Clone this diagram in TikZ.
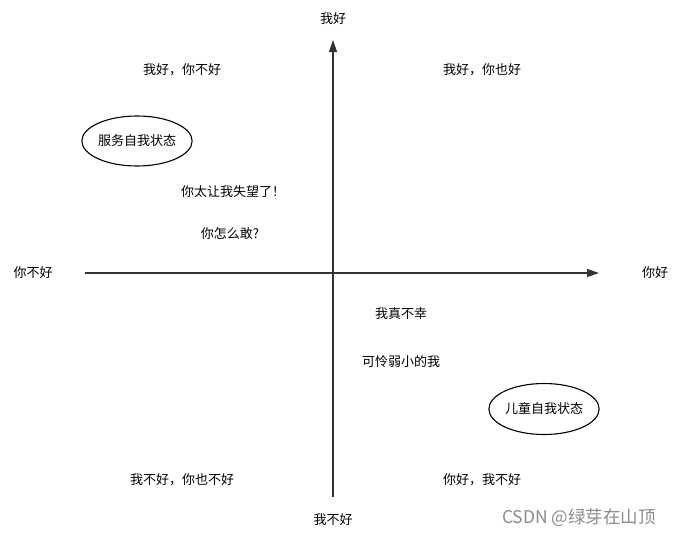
\documentclass[tikz,border=0pt]{standalone}
\usepackage{fontspec}
\setmainfont{Noto Sans CJK SC}
\newfontfamily\cjk{Noto Sans CJK SC}
\usetikzlibrary{arrows.meta,shapes.geometric}
\definecolor{axisgray}{HTML}{333333}
\tikzset{
  lbl/.style={font=\cjk\fontsize{13}{15}\selectfont, text=black, inner sep=0pt},
  axis/.style={draw=axisgray, line width=1.2pt, -{Triangle[length=12pt,width=8pt]}},
  stateell/.style={ellipse, draw=black, line width=1.1pt, minimum width=110pt, minimum height=50pt, font=\cjk\fontsize{13}{15}\selectfont, inner sep=0pt},
  wm/.style={font=\cjk\fontsize{17.5}{20}\selectfont, text=black!45, inner sep=0pt}
}
\begin{document}
\begin{tikzpicture}[x=1pt,y=-1pt]
\useasboundingbox[fill=white] (0,0) rectangle (679,536);
\coordinate (vb) at (333,497);
\coordinate (vt) at (333,40);
\coordinate (hl) at (85,273);
\coordinate (hr) at (599,273);
\draw[axis] (vb) -- (vt);
\draw[axis] (hl) -- (hr);
\node[lbl] (top) at (333,19) {我好};
\node[lbl] (bottom) at (333,520) {我不好};
\node[lbl] (left) at (33,273) {你不好};
\node[lbl] (right) at (655,273) {你好};
\node[lbl] (q1) at (182,70) {我好，你不好};
\node[lbl] (q2) at (482,70) {我好，你也好};
\node[lbl] (q3) at (182,480) {我不好，你也不好};
\node[lbl] (q4) at (482,480) {你好，我不好};
\node[stateell] (serve) at (137,141) {服务自我状态};
\node[stateell, minimum width=108pt, minimum height=51pt] (child) at (544,409) {儿童自我状态};
\node[lbl] (t1) at (233,192) {你太让我失望了！};
\node[lbl] (t2) at (230,234) {你怎么敢?};
\node[lbl] (t3) at (401,314) {我真不幸};
\node[lbl] (t4) at (401,362) {可怜弱小的我};
\node[wm] (mark) at (579,518) {CSDN @绿芽在山顶};
\end{tikzpicture}
\end{document}
